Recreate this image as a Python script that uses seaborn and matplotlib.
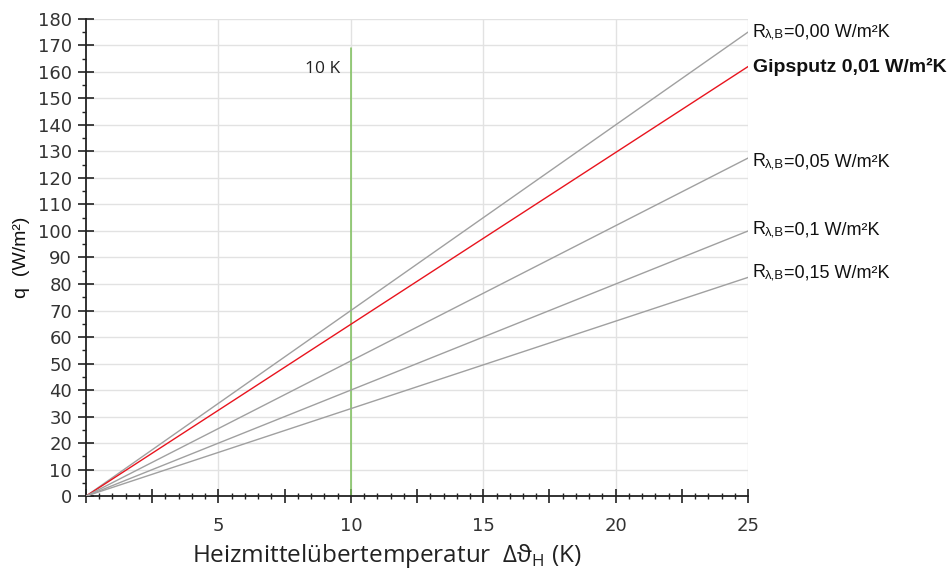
import matplotlib
matplotlib.use("Agg")
import matplotlib.pyplot as plt
import matplotlib.ticker as mticker
import seaborn as sns
import pandas as pd

# ---- data ----
x_points = [0, 25]
q_r000 = [0, 175]
q_gips = [0, 162]
q_r005 = [0, 127.5]
q_r010 = [0, 100]
q_r015 = [0, 82.5]
series_names = ["R=0,00", "Gipsputz 0,01", "R=0,05", "R=0,1", "R=0,15"]
label_values = ["=0,00 W/m²K", "Gipsputz 0,01 W/m²K", "=0,05 W/m²K",
                "=0,1 W/m²K", "=0,15 W/m²K"]
label_y = [176.3, 162, 127.3, 101.7, 85.5]
marker_x = [10, 10]
marker_q = [0, 169]
marker_label = "10 K"
x_ticks = [5, 10, 15, 20, 25]
y_ticks = list(range(0, 181, 10))

sns.set_theme(style="white")
plt.rcParams['font.family'] = ['DejaVu Sans']

rows = []
for name, vals in zip(series_names, [q_r000, q_gips, q_r005, q_r010, q_r015]):
    for xv, qv in zip(x_points, vals):
        rows.append({"x": xv, "q": qv, "series": name})
df = pd.DataFrame(rows)

colors = ["#a0a0a0", "#e8141e", "#a0a0a0", "#a0a0a0", "#a0a0a0"]
palette = dict(zip(series_names, colors))

fig = plt.figure(figsize=(9.5, 5.69), dpi=100)
ax = fig.add_axes([0.0905, 0.128, 0.697, 0.839])

# grid
for yv in y_ticks[1:]:
    ax.axhline(yv, color="#e2e2e2", lw=1, zorder=0)
for xv in [5, 10, 15, 20, 25]:
    ax.axvline(xv, color="#e2e2e2", lw=1, zorder=0)

sns.lineplot(data=df, x="x", y="q", hue="series", palette=palette,
             linewidth=1.0, legend=False, ax=ax, zorder=3, estimator=None)

mdf = pd.DataFrame({"x": marker_x, "q": marker_q})
sns.lineplot(data=mdf, x="x", y="q", color="#7cbf5a", linewidth=1.1, ax=ax,
             zorder=2, estimator=None, sort=False)
ax.text(9.6, 161, marker_label, ha="right", va="center", fontsize=12.5,
        family="Open Sans", color="#222222")

ax.set_xlim(0, 25)
ax.set_ylim(0, 180)

for i, (lab, ly) in enumerate(zip(label_values, label_y)):
    if i == 1:
        ax.text(25.2, ly, lab, ha="left", va="center", fontsize=14,
                family="Liberation Sans", fontweight="bold", color="#111111")
    else:
        t1 = ax.text(25.15, ly - 4.5, "R", ha="left", va="bottom", fontsize=13,
                     family="Liberation Sans", color="#111111")
        t2 = ax.annotate("λ,B", xy=(1, 0), xycoords=t1, ha="left", va="bottom",
                         fontsize=9.5, family="Liberation Sans", color="#111111")
        ax.annotate(lab, xy=(1, 0), xycoords=t2, ha="left", va="bottom",
                    fontsize=13, family="Liberation Sans", color="#111111")

# spines
for s in ["top", "right"]:
    ax.spines[s].set_visible(False)
ax.spines["left"].set_color("#222222")
ax.spines["bottom"].set_color("#222222")
ax.spines["left"].set_linewidth(1.3)
ax.spines["bottom"].set_linewidth(1.3)

ax.xaxis.set_major_locator(mticker.MultipleLocator(2.5))
ax.xaxis.set_major_formatter(mticker.FuncFormatter(
    lambda v, p: f"{int(v)}" if v in x_ticks else ""))
ax.xaxis.set_minor_locator(mticker.MultipleLocator(0.5))
ax.set_yticks(y_ticks)
ax.yaxis.set_minor_locator(mticker.MultipleLocator(5))

ax.tick_params(axis="x", which="major", direction="inout", length=10, width=1.2,
               color="#222222", pad=10, labelsize=13, labelcolor="#333333")
ax.tick_params(axis="x", which="minor", direction="inout", length=5, width=1,
               color="#222222")
ax.tick_params(axis="y", which="major", direction="inout", length=12, width=1.2,
               color="#222222", pad=4, labelsize=13, labelcolor="#333333")
ax.tick_params(axis="y", which="minor", direction="out", length=3, width=1,
               color="#222222")
ax.tick_params(bottom=True, left=True, which="both")

ax.set_xlabel("Heizmittelübertemperatur  Δϑ$_\\mathregular{H}$ (K)",
              fontsize=17.5, family="Open Sans", color="#222222")
ax.xaxis.set_label_coords(0.454, -0.095)
ax.set_ylabel("q  (W/m²)", fontsize=14, family="Liberation Sans",
              color="#111111", labelpad=6)

fig.savefig("out.png", dpi=100)
